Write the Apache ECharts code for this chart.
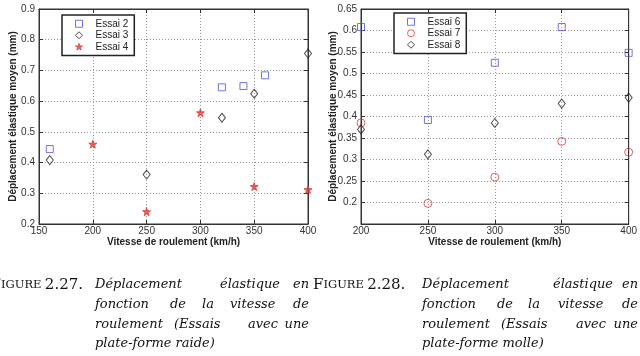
<!DOCTYPE html>
<html>
<head>
<meta charset="utf-8">
<script src="https://cdn.jsdelivr.net/npm/echarts@6/dist/echarts.min.js"></script>
<style>
  html, body { margin: 0; padding: 0; background: #fff; }
  #chart { width: 640px; height: 356px; }
</style>
</head>
<body>
<div id="chart"></div>
<script>
// Figure 2.27 - plate-forme raide
const essai2 = [[160, 0.444], [320, 0.645], [340, 0.649], [360, 0.684]]
const essai3 = [[160, 0.408], [250, 0.361], [320, 0.546], [350, 0.624], [400, 0.755]]
const essai4 = [[200, 0.460], [250, 0.240], [300, 0.562], [350, 0.322], [400, 0.312]]
// Figure 2.28 - plate-forme molle
const essai6 = [[200, 0.608], [250, 0.392], [300, 0.525], [350, 0.608], [400, 0.548]]
const essai7 = [[200, 0.385], [250, 0.198], [300, 0.259], [350, 0.342], [400, 0.317]]
const essai8 = [[200, 0.370], [250, 0.312], [300, 0.385], [350, 0.430], [400, 0.444]]

const xTitle = 'Vitesse de roulement (km/h)'
const yTitle = 'Déplacement élastique moyen (mm)'

const chart = echarts.init(document.getElementById('chart'))

const sans = 'Liberation Sans'
const ink = '#222'
const blue = '#5050e0'
const red = '#e03a3a'
const star = 'path://M0,-100L22,-31L95,-31L36,12L59,81L0,38L-59,81L-36,12L-95,-31L-22,-31Z'
const grid = { color: '#999', type: [1, 2] }

function mainX(g, min, max) {
  return {
    type: 'value', gridIndex: g, min: min, max: max, interval: 50,
    name: xTitle, nameLocation: 'middle', nameGap: 13, nameMoveOverlap: false,
    nameTextStyle: { fontFamily: sans, fontWeight: 'bold', fontSize: 10, color: ink },
    axisLine: { lineStyle: { color: '#333' } },
    axisTick: { inside: true, length: 4, lineStyle: { color: '#333' } },
    axisLabel: { fontFamily: sans, fontSize: 10, color: '#333', margin: 2 },
    splitLine: { show: true, lineStyle: grid }
  }
}
function mirrorX(g, min, max) {
  return {
    type: 'value', gridIndex: g, min: min, max: max, interval: 50, position: 'top',
    axisLine: { lineStyle: { color: '#333' } },
    axisTick: { inside: true, length: 4, lineStyle: { color: '#333' } },
    axisLabel: { show: false }, splitLine: { show: false }
  }
}
function mainY(g, min, max, step, hideMin) {
  return {
    type: 'value', gridIndex: g, min: min, max: max, interval: step,
    name: yTitle, nameLocation: 'middle', nameGap: hideMin ? 23 : 21, nameMoveOverlap: false,
    nameTextStyle: { fontFamily: sans, fontWeight: 'bold', fontSize: 10, color: ink },
    axisLine: { show: true, lineStyle: { color: '#333' } },
    axisTick: { show: true, inside: true, length: 4, lineStyle: { color: '#333' } },
    axisLabel: {
      fontFamily: sans, fontSize: 10, color: '#333', margin: 4,
      formatter: v => (hideMin && Math.abs(v - min) < 1e-9) ? '' : String(+v.toFixed(2))
    },
    splitLine: { show: true, lineStyle: grid }
  }
}
function mirrorY(g, min, max, step) {
  return {
    type: 'value', gridIndex: g, min: min, max: max, interval: step, position: 'right',
    axisLine: { show: true, lineStyle: { color: '#333' } },
    axisTick: { show: true, inside: true, length: 4, lineStyle: { color: '#333' } },
    axisLabel: { show: false }, splitLine: { show: false }
  }
}
function markStyle(color, filled) {
  return { color: filled ? color : 'rgba(255,255,255,0)', borderColor: color, borderWidth: 1 }
}
function pts(name, data, ax, symbol, size, color, filled) {
  return {
    name: name, type: 'scatter', xAxisIndex: ax, yAxisIndex: ax, data: data,
    symbol: symbol, symbolSize: size, itemStyle: markStyle(color, filled)
  }
}
function legend(items, left, top) {
  return {
    data: items.map(it => ({ name: it[0], icon: it[1], itemStyle: markStyle(it[2], it[3]) })),
    orient: 'vertical', left: left, top: top,
    padding: [3, 6, 3, 13], itemGap: 0, itemWidth: 7, itemHeight: 7,
    borderColor: '#222', borderWidth: 1.5, backgroundColor: '#fff',
    textStyle: { fontFamily: sans, fontSize: 10, color: ink, lineHeight: 11.5, padding: [0, 0, 0, 8] }
  }
}

// caption words: [text, x, line]
const lineY = [285, 305, 325, 344]
function caption(num, words, endX) {
  const items = [{
    type: 'text', x: num[1], y: lineY[0],
    style: {
      text: '{a|F}{b|IGURE} {a|' + num[0] + '}', align: num[2], verticalAlign: 'middle',
      rich: {
        a: { fontFamily: 'DejaVu Serif', fontSize: 15, fill: '#111' },
        b: { fontFamily: 'DejaVu Serif', fontSize: 11.5, fill: '#111' }
      }
    }
  }]
  words.forEach(w => {
    items.push({
      type: 'text', x: w[1] === 'end' ? endX : w[1], y: lineY[w[2]],
      style: {
        text: w[0], align: w[1] === 'end' ? 'right' : 'left', verticalAlign: 'middle',
        fontFamily: 'DejaVu Serif', fontStyle: 'italic', fontSize: 13, fill: '#111'
      }
    })
  })
  return items
}

const option = {
  animation: false,
  backgroundColor: '#fff',
  grid: [
    { left: 39, right: 332, top: 9, bottom: 132, show: true, borderColor: '#333', borderWidth: 1, backgroundColor: '#fff' },
    { left: 361, right: 7, top: 9, bottom: 132, show: true, borderColor: '#333', borderWidth: 1, backgroundColor: '#fff' }
  ],
  xAxis: [mainX(0, 150, 400), mainX(1, 200, 400), mirrorX(0, 150, 400), mirrorX(1, 200, 400)],
  yAxis: [mainY(0, 0.2, 0.9, 0.1, false), mainY(1, 0.15, 0.65, 0.05, true), mirrorY(0, 0.2, 0.9, 0.1), mirrorY(1, 0.15, 0.65, 0.05)],
  legend: [
    legend([['Essai 2', 'rect', blue, false], ['Essai 3', 'diamond', ink, false], ['Essai 4', star, red, true]], 62, 15),
    legend([['Essai 6', 'rect', blue, false], ['Essai 7', 'circle', red, false], ['Essai 8', 'diamond', ink, false]], 394, 13)
  ],
  series: [
    pts('Essai 2', essai2, 0, 'rect', 7, blue, false),
    pts('Essai 3', essai3, 0, 'diamond', [7, 9], ink, false),
    pts('Essai 4', essai4, 0, star, 8, red, true),
    pts('Essai 6', essai6, 1, 'rect', 7, blue, false),
    pts('Essai 7', essai7, 1, 'circle', 8, red, false),
    pts('Essai 8', essai8, 1, 'diamond', [7, 9], ink, false)
  ],
  graphic: caption(['2.27.', 83, 'right'], [
    ['Déplacement', 95, 0], ['élastique', 220, 0], ['en', 'end', 0],
    ['fonction', 95, 1], ['de', 170, 1], ['la', 202, 1], ['vitesse', 230, 1], ['de', 'end', 1],
    ['roulement', 95, 2], ['(Essais', 174, 2], ['avec', 248, 2], ['une', 'end', 2],
    ['plate-forme raide)', 95, 3]
  ], 309).concat(caption(['2.28.', 313, 'left'], [
    ['Déplacement', 422, 0], ['élastique', 553, 0], ['en', 'end', 0],
    ['fonction', 422, 1], ['de', 497, 1], ['la', 528, 1], ['vitesse', 558, 1], ['de', 'end', 1],
    ['roulement', 422, 2], ['(Essais', 501, 2], ['avec', 576, 2], ['une', 'end', 2],
    ['plate-forme molle)', 422, 3]
  ], 638))
}
chart.setOption(option)
</script>
</body>
</html>
